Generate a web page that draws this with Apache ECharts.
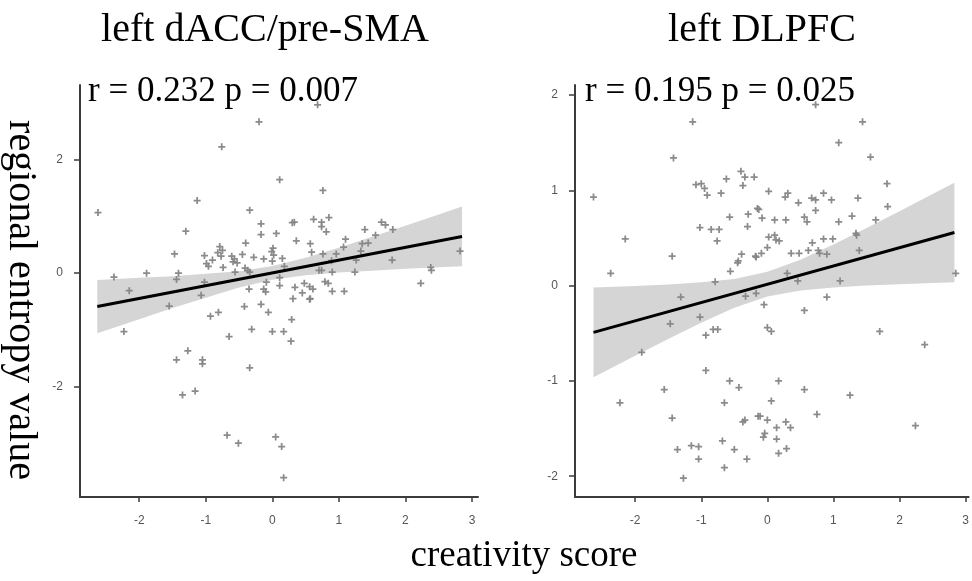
<!DOCTYPE html>
<html><head><meta charset="utf-8">
<script src="https://cdn.jsdelivr.net/npm/echarts@6/dist/echarts.min.js"></script>
<style>html,body{margin:0;padding:0;background:#fff}#c{width:972px;height:581px}</style>
</head><body><div id="c"></div>
<script>
// ---- data ----
const leftX = [-2.62,-0.20,-0.76,-1.13,-0.34,-0.17,-0.17,-1.30,-0.40,-0.79,-0.75,-0.82,-0.77,-1.47,-1.02,-0.90,-0.99,-0.96,-0.61,-0.57,-0.59,-0.53,-0.45,-0.28,-0.13,-0.74,-1.89,-1.41,-2.38,0.30,0.33,0.06,0.36,0.01,-0.01,0.02,0.00,0.15,-0.41,-0.37,-0.34,-0.56,0.18,-1.44,-1.02,-0.09,0.11,-0.35,-0.10,-0.13,0.11,0.34,-1.07,0.31,-1.55,-0.42,-0.17,-0.06,-0.93,-0.81,0.29,-0.31,0.00,0.17,-0.65,-2.15,-2.23,-1.27,-1.44,-1.05,-1.05,-0.34,-1.35,-1.16,-0.68,-0.51,2.23,0.28,0.05,0.14,0.17,0.48,0.45,0.56,0.61,0.56,0.79,0.84,0.90,1.08,0.70,0.90,1.24,2.39,0.76,0.62,0.74,0.74,0.85,0.81,0.57,0.59,0.76,1.10,1.07,0.96,1.39,1.55,1.64,1.70,1.81,1.35,1.44,1.33,1.26,1.80,0.89,0.74,0.68,0.11,2.82,2.38,0.57];
const leftY = [1.07,2.67,2.23,1.28,1.11,0.87,0.68,0.74,0.53,0.47,0.40,0.36,0.30,0.34,0.31,0.23,0.17,0.12,0.30,0.25,0.20,0.18,0.33,0.28,0.25,0.10,0.00,0.00,-0.07,0.89,0.90,0.70,0.57,0.44,0.38,0.32,0.21,0.26,0.09,0.05,0.02,0.02,0.12,-0.11,-0.16,-0.16,-0.08,-0.28,-0.33,-0.28,-0.22,-0.25,-0.39,-0.45,-0.58,-0.59,-0.55,-0.69,-0.76,-0.69,-0.82,-0.99,-1.03,-1.03,-1.12,-0.31,-1.03,-1.37,-1.53,-1.53,-1.60,-1.67,-2.15,-2.08,-2.86,-3.00,-0.18,-1.20,-2.89,-3.06,-3.61,-0.18,-0.35,-0.24,-0.28,-0.46,-0.15,-0.18,-0.32,-0.32,0.05,0.02,0.02,0.05,1.46,0.95,0.90,0.82,0.98,0.73,0.52,0.37,0.34,0.60,0.46,0.34,0.77,0.67,0.90,0.85,0.77,0.52,0.53,0.39,0.23,0.23,0.22,0.05,2.97,1.65,0.39,0.10,-0.45];

const rightX = [-1.13,-1.42,-2.63,-0.40,-0.34,-0.37,-0.20,-0.62,-1.08,-1.00,-0.95,-0.91,-0.70,-0.15,-0.13,-0.29,-0.57,-1.02,-0.85,-0.73,-0.30,-0.76,-2.15,-1.44,-0.39,-0.44,-0.45,-0.18,-0.56,-2.37,-0.79,-1.31,-0.33,0.02,0.27,0.31,-0.08,0.11,0.28,0.02,0.11,0.13,0.18,0.00,-0.09,-0.17,0.30,-0.17,-0.05,-1.02,0.73,1.44,1.08,1.56,0.85,0.67,0.73,0.47,0.97,1.37,1.81,1.82,0.73,1.28,0.56,0.60,1.08,1.64,0.85,0.99,0.68,1.34,1.35,0.36,0.48,0.62,0.77,0.79,0.90,1.39,0.46,1.10,2.85,0.90,-1.47,-0.93,-0.82,-0.75,-1.90,-0.93,-0.57,-0.43,-1.56,-2.23,-0.65,-1.44,-0.37,-0.34,-0.14,-1.15,-1.04,-1.36,-1.04,-0.68,-0.50,-0.31,-0.65,-1.27,0.56,0.00,0.06,0.17,0.56,0.06,-0.11,0.00,0.28,0.14,0.35,-0.04,-0.06,0.14,0.29,0.17,0.75,1.70,2.38,1.25,2.24];
const rightY = [1.72,1.34,0.93,1.20,1.14,1.05,1.14,1.12,1.06,1.07,1.02,0.95,0.97,0.81,0.80,0.75,0.72,0.61,0.59,0.59,0.62,0.47,0.49,0.31,0.33,0.26,0.24,0.31,0.15,0.13,0.04,-0.12,-0.11,0.99,0.93,0.97,0.71,0.69,0.69,0.51,0.53,0.48,0.47,0.40,0.34,0.30,0.13,-0.08,-0.20,-0.33,1.90,1.72,1.50,1.35,0.97,0.92,0.90,0.87,0.90,0.92,1.07,0.83,0.79,0.73,0.72,0.67,0.67,0.69,0.49,0.49,0.45,0.55,0.53,0.34,0.34,0.37,0.37,0.34,0.33,0.37,0.05,0.05,0.13,-0.12,-0.40,-0.52,-0.46,-0.46,-0.70,-0.89,-1.00,-1.07,-1.09,-1.23,-1.23,-1.39,-1.43,-1.41,-1.37,-1.68,-1.69,-1.72,-1.82,-1.63,-1.72,-1.82,-1.91,-2.02,-0.26,-0.44,-0.48,-1.00,-1.09,-1.21,-1.37,-1.41,-1.43,-1.49,-1.49,-1.55,-1.59,-1.61,-1.71,-1.76,-1.35,-0.48,-0.62,-1.15,-1.47];

// fitted lines (endpoints)
const leftFitX = [-2.63, 2.85];
const leftFitY = [-0.59, 0.648];
const rightFitX = [-2.63, 2.83];
const rightFitY = [-0.49, 0.558];

// confidence bands
const leftBandX    = [-2.63,-2,-1.5,-1,-0.5,0,0.5,1,1.5,2,2.5,2.85];
const leftBandHigh = [-0.12,-0.083,-0.055,-0.012,0.035,0.124,0.272,0.45,0.643,0.836,1.035,1.174];
const leftBandLow  = [-1.06,-0.813,-0.615,-0.432,-0.253,-0.116,-0.038,0.01,0.043,0.076,0.103,0.122];
const rightBandX    = [-2.63,-2,-1.5,-1,-0.5,0,0.5,1,1.5,2,2.5,2.83];
const rightBandHigh = [-0.02,-0.003,0.013,0.035,0.071,0.145,0.273,0.433,0.605,0.782,0.961,1.08];
const rightBandLow  = [-0.96,-0.735,-0.559,-0.389,-0.233,-0.115,-0.051,-0.019,0.001,0.016,0.029,0.036];

// tick values
const xTicks = [-2,-1,0,1,2,3];
const leftYTicks = [-2,0,2];
const rightYTicks = [-2,-1,0,1,2];

// texts
const titleLeft = 'left dACC/pre-SMA';
const titleRight = 'left DLPFC';
const statLeft = 'r = 0.232 p = 0.007';
const statRight = 'r = 0.195 p = 0.025';
const yTitle = 'regional entropy value';
const xTitle = 'creativity score';

// ---- chart ----
const chart = echarts.init(document.getElementById('c'), null, {renderer:'canvas'});
const zip = (a,b) => a.map((v,i)=>[v,b[i]]);
const plus = 'path://M3,0h2v3h3v2h-3v3h-2v-3h-3v-2h3z';
const serif = '"Liberation Serif","Times New Roman",serif';
const axisCol = '#3c3c3c';
const labelStyle = {color:'#555', fontSize:12, fontFamily:'"Liberation Sans",Arial,sans-serif'};

function xAx(idx, min, max){
  return {type:'value', gridIndex:idx, min:min, max:max,
    axisLine:{show:true, onZero:false, lineStyle:{color:axisCol,width:2}},
    axisTick:{show:true, length:5, lineStyle:{color:axisCol,width:1.5}, customValues:xTicks},
    axisLabel:{...labelStyle, margin:18, customValues:xTicks},
    splitLine:{show:false}};
}
function yAx(idx, min, max, ticks){
  return {type:'value', gridIndex:idx, min:min, max:max,
    axisLine:{show:true, onZero:false, lineStyle:{color:axisCol,width:2}},
    axisTick:{show:true, length:6, lineStyle:{color:axisCol,width:1.5}, customValues:ticks},
    axisLabel:{...labelStyle, margin:17, customValues:ticks},
    splitLine:{show:false}};
}
function band(idx, bx, lo, hi){
  return {type:'custom', xAxisIndex:idx, yAxisIndex:idx, silent:true, z:1,
    data:[[bx[0], lo[0]]],
    renderItem:function(params, api){
      const pts = [];
      for (let i=0;i<bx.length;i++) pts.push(api.coord([bx[i], hi[i]]));
      for (let i=bx.length-1;i>=0;i--) pts.push(api.coord([bx[i], lo[i]]));
      return {type:'polygon', shape:{points:pts}, style:{fill:'#d5d5d5', stroke:null}};
    }};
}
function pts(idx, xs, ys){
  return {type:'scatter', xAxisIndex:idx, yAxisIndex:idx, symbol:plus, symbolSize:7, z:2,
    itemStyle:{color:'#858585', opacity:0.95}, data:zip(xs,ys), silent:true};
}
function fit(idx, xs, ys){
  return {type:'line', xAxisIndex:idx, yAxisIndex:idx, symbol:'none', z:3, silent:true,
    lineStyle:{color:'#000', width:3}, data:zip(xs,ys)};
}

chart.setOption({
  animation:false,
  backgroundColor:'#fff',
  grid:[
    {left:80, top:85, width:398, height:412},
    {left:575, top:85, width:396, height:412}
  ],
  xAxis:[xAx(0,-2.89,3.09), xAx(1,-2.91,3.045)],
  yAxis:[yAx(0,-3.95,3.32,leftYTicks), yAx(1,-2.218,2.106,rightYTicks)],
  series:[
    band(0,leftBandX,leftBandLow,leftBandHigh),
    pts(0,leftX,leftY),
    fit(0,leftFitX,leftFitY),
    band(1,rightBandX,rightBandLow,rightBandHigh),
    pts(1,rightX,rightY),
    fit(1,rightFitX,rightFitY)
  ],
  graphic:[
    {type:'text', style:{text:titleLeft, x:265, y:30, align:'center', verticalAlign:'middle', font:'40px '+serif, fill:'#000'}},
    {type:'text', style:{text:titleRight, x:762, y:30, align:'center', verticalAlign:'middle', font:'40px '+serif, fill:'#000'}},
    {type:'text', style:{text:statLeft, x:88, y:92, align:'left', verticalAlign:'middle', font:'35px '+serif, fill:'#000'}},
    {type:'text', style:{text:statRight, x:585, y:92, align:'left', verticalAlign:'middle', font:'35px '+serif, fill:'#000'}},
    {type:'text', x:20, y:300, rotation:-Math.PI/2, style:{text:yTitle, x:0, y:0, align:'center', verticalAlign:'middle', font:'40px '+serif, fill:'#000'}},
    {type:'text', style:{text:xTitle, x:524, y:556, align:'center', verticalAlign:'middle', font:'37px '+serif, fill:'#000'}}
  ]
});
</script>
</body></html>
